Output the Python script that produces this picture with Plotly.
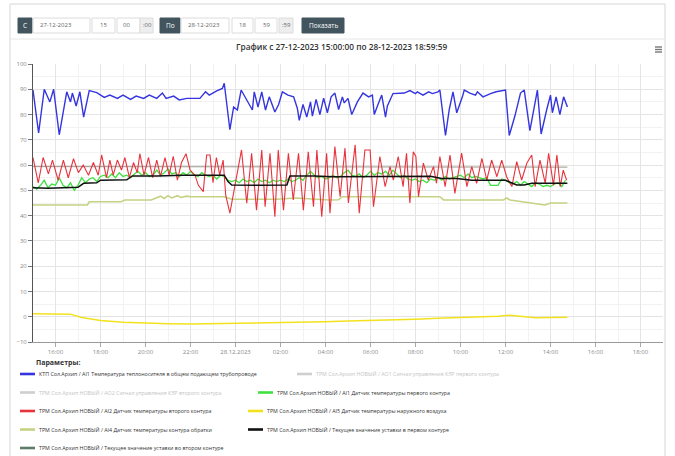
import pandas as pd
import plotly.graph_objects as go

# ---------------- data ----------------
START = pd.Timestamp("2023-12-27 15:00:00")
END = pd.Timestamp("2023-12-28 19:00:00")

# КТП: температура теплоносителя в общем подающем трубопроводе
blue_min = [0, 15, 30, 45, 55, 70, 90, 100, 105, 115, 125, 135, 150, 170, 190, 205, 225, 240, 260, 275,
            295, 310, 330, 345, 355, 375, 390, 410, 425, 445, 460, 470, 490, 505, 510, 525, 535, 545, 555, 570,
            585, 590, 600, 610, 620, 630, 645, 655, 665, 680, 695, 705, 710, 720, 730, 740, 745, 755, 765, 775,
            785, 795, 805, 815, 825, 830, 840, 850, 865, 880, 895, 905, 910, 920, 930, 940, 945, 960, 980, 990,
            1005, 1020, 1025, 1040, 1055, 1065, 1080, 1085, 1100, 1110, 1120, 1130, 1145, 1150, 1165, 1180, 1185,
            1200, 1220, 1235, 1260, 1270, 1285, 1300, 1310, 1325, 1345, 1355, 1370, 1380, 1385, 1395, 1405, 1415, 1425]
blue_val = [89.7, 72.7, 90, 85, 90, 72, 89, 85, 88.5, 83.4, 89, 79, 89.5, 88.7, 86.8, 87.7, 86.4, 87.7, 86, 87.3,
            86.4, 87.7, 86.4, 88.5, 86.4, 87.3, 85.8, 86.4, 86.4, 86.4, 89, 87.7, 89.4, 90.3, 92.4, 74, 83, 81.8, 89.7, 85.8,
            81.8, 89, 83, 89, 81.8, 87, 81, 84, 89, 87.7, 87, 82.4, 77.7, 84, 79, 85, 79.4, 86, 80, 86.5,
            80.7, 87, 88.5, 82, 87, 84.6, 86.4, 80, 85, 88.5, 87, 87.7, 80, 84, 87.7, 79, 83.4, 88.3, 88.3, 88.5,
            89.5, 88.3, 89, 87.7, 89, 88.3, 89, 89.7, 71.7, 82, 89, 80.7, 87, 89.7, 88.5, 87.7, 89,
            87, 88.3, 89, 89.7, 71.7, 79.4, 88.5, 89.7, 73.6, 89.7, 72.3, 82, 87.7, 80.7, 87, 80, 87, 83]

# ТРМ: датчик температуры второго контура
red_min = [0, 14, 27, 41, 52, 67, 81, 94, 108, 121, 134, 148, 161, 174, 183, 196, 205, 214, 225, 236,
           245, 257, 268, 278, 285, 296, 308, 319, 330, 340, 352, 363, 374, 385, 396, 408, 419, 432, 441, 454,
           463, 472, 480, 489, 498, 507, 514, 525, 556, 570, 583, 596, 610, 619, 632, 645, 654, 668, 681, 694,
           708, 721, 734, 748, 757, 770, 783, 792, 805, 819, 832, 841, 859, 870, 885, 899, 908, 925, 939, 952,
           961, 974, 987, 996, 1005, 1014, 1021, 1028, 1041, 1054, 1068, 1076, 1085, 1099, 1112, 1125, 1143, 1157,
           1170, 1183, 1197, 1210, 1223, 1237, 1250, 1263, 1277, 1290, 1303, 1317, 1330, 1339, 1352, 1366, 1375,
           1388, 1397, 1406, 1414, 1423]
red_val = [63, 53, 63, 56.5, 62, 54, 62, 55, 62.5, 57, 60, 56, 61, 56, 64, 55, 62, 56, 62, 58,
           63, 55, 61, 57, 64.5, 56, 63, 55, 62, 55.5, 63, 56, 63.5, 54, 61, 64.5, 58, 56, 52, 49.5,
           64, 64, 53, 63, 56, 62, 48, 41, 66, 44.9, 64.7, 42.2, 66, 43.5, 64.7, 39.6, 66, 42.2, 64.7, 46.2,
           64.7, 42.2, 65.3, 43.5, 66, 39.6, 64.7, 41, 67.3, 47.5, 66.7, 45, 68, 41, 66, 66, 43.5, 63.4, 51.5, 59.4,
           54.1, 63.4, 51.5, 64.7, 45, 65.3, 63.4, 47.5, 60.8, 54.1, 59.4, 52.8, 63.4, 51.5, 64, 48.8, 64.7, 51.5,
           59.4, 52.8, 62.7, 54.1, 62, 55.4, 62, 55.4, 51.5, 61.4, 54.1, 60.8, 64, 51.5, 62, 52.8, 64.7,
           52, 64, 51.5, 58, 54]

# ТРМ: датчик температуры первого контура
green_min = list(range(0, 1430, 10))
green_val = [51.5, 50.5, 52, 54, 51, 52.5, 52, 55, 52, 51, 53, 50, 52, 55, 53, 54.5, 55, 53.5, 55.5, 56,
             55, 56.5, 55, 57, 55.5, 56, 55, 56.5, 57.5, 56, 57, 55.5, 56, 58, 56, 57, 58.5, 56.5, 57, 55.5,
             57, 56, 57.5, 56, 55.5, 57, 56, 55.5, 56, 54.5, 56, 55.5, 54, 53.5, 54, 53, 54.5, 53.5, 54, 53,
             54.5, 53.5, 54, 53, 54, 53.5, 54, 53.5, 54.5, 53.5, 54, 55, 54, 56, 57.5, 56, 55, 55.5, 54.5, 55,
             56, 55, 55.5, 57, 58, 56, 55.5, 56.5, 55, 56, 57.5, 56, 57, 56.5, 57.5, 56, 58, 56.5, 55, 56,
             54.5, 54, 54.5, 53.5, 54, 53, 54.5, 54, 55, 54, 55.5, 54.5, 55, 55.5, 56, 55, 56.5, 55, 55.5, 55,
             54.5, 55, 52, 52, 52, 54.5, 54, 53, 52.5, 53.5, 52, 53.5, 52.5, 51.5, 53, 52.5, 51.5, 52, 51.5, 52.5,
             53, 51.5, 54]

# ТРМ: датчик температуры наружного воздуха
yellow_min = [0, 60, 100, 130, 180, 240, 300, 360, 420, 480, 540, 600, 660, 720, 780, 840, 900, 960,
              1020, 1080, 1140, 1200, 1240, 1270, 1300, 1340, 1380, 1425]
yellow_val = [1.2, 1.1, 1.0, -0.3, -1.5, -2.2, -2.6, -2.8, -2.9, -2.8, -2.6, -2.5, -2.3, -2.2, -2.0, -1.7,
              -1.5, -1.3, -1.0, -0.6, -0.4, -0.2, 0.2, 0.6, 0.1, -0.4, -0.3, -0.2]

# ТРМ: датчик температуры контура обратки
olive_min = [0, 60, 145, 150, 235, 245, 315, 325, 340, 350, 360, 370, 385, 395, 410, 420, 510, 530, 650,
             700, 790, 815, 825, 1085, 1095, 1255, 1263, 1272, 1300, 1340, 1365, 1380, 1425]
olive_val = [44.2, 44.2, 44.2, 45.5, 45.5, 46.2, 46.2, 46.8, 47.7, 46.8, 47.9, 47, 47.9, 47.2, 47.7, 47.5,
             47.5, 46.5, 46.5, 47, 46.2, 46.3, 47.5, 47.5, 46.2, 46.2, 47, 46.2, 45.6, 44.6, 44.2, 45, 45]

# ТРМ: текущее значение уставки в первом контуре
black_min = [0, 40, 80, 120, 135, 170, 180, 250, 265, 330, 400, 470, 510, 520, 530, 600, 677, 685, 750,
             800, 900, 970, 1010, 1060, 1090, 1130, 1170, 1260, 1290, 1310, 1330, 1425]
black_val = [51, 50.8, 51, 51.2, 52.8, 53, 54, 54.2, 55.7, 55.7, 56, 56, 56, 53.5, 52.1, 52, 52.1, 55.7, 55.7,
             55.4, 55.4, 55.4, 55.6, 55.6, 54.7, 54.7, 54, 54, 52.1, 52.1, 52.8, 52.8]

# ТРМ: текущее значение уставки во втором контуре
gray_min = [0, 300, 600, 900, 1200, 1425]
gray_val = [59.4, 59.4, 59.2, 59.2, 59.2, 59.2]

y_ticks = [-10, 0, 10, 20, 30, 40, 50, 60, 70, 80, 90, 100]
x_tick_labels = ["16:00", "18:00", "20:00", "22:00", "28.12.2023", "02:00", "04:00", "06:00",
                 "08:00", "10:00", "12:00", "14:00", "16:00", "18:00"]

series_names = [
    "КТП Сол.Архип / AI1 Температура теплоносителя в общем подающем трубопроводе",
    "ТРМ Сол.Архип НОВЫЙ / AO1 Сигнал управления КЗР первого контура",
    "ТРМ Сол.Архип НОВЫЙ / AO2 Сигнал управления КЗР второго контура",
    "ТРМ Сол.Архип НОВЫЙ / AI1 Датчик температуры первого контура",
    "ТРМ Сол.Архип НОВЫЙ / AI2 Датчик температуры второго контура",
    "ТРМ Сол.Архип НОВЫЙ / AI5 Датчик температуры наружного воздуха",
    "ТРМ Сол.Архип НОВЫЙ / AI4 Датчик температуры контура обратки",
    "ТРМ Сол.Архип НОВЫЙ / Текущее значение уставки в первом контуре",
    "ТРМ Сол.Архип НОВЫЙ / Текущее значение уставки во втором контуре",
]

# ---------------- styling ----------------
FONT = "Open Sans"
C_BLUE, C_GREEN, C_RED = "#3535e0", "#3fe03f", "#e8333d"
C_YELLOW, C_OLIVE, C_BLACK, C_SP2 = "#f2e21e", "#c3d383", "#111111", "#5f7a66"
C_SP2_LINE = "#8c8c80"
C_OFF = "#cfcfcf"
C_BTN = "#42545e"

W, H = 675, 456
PL, PR, PT, PB = 33, 663, 64, 342  # plot area in pixels


def px(X):
    return (X - PL) / (PR - PL)


def py(Y):
    return (PB - Y) / (PB - PT)


def t(mins):
    return START + pd.to_timedelta(mins, unit="min")


fig = go.Figure()

traces = [
    (gray_min, gray_val, series_names[8], C_SP2_LINE, 0.9),
    (olive_min, olive_val, series_names[6], C_OLIVE, 1.6),
    (yellow_min, yellow_val, series_names[5], C_YELLOW, 1.4),
    (green_min, green_val, series_names[3], C_GREEN, 1.3),
    (red_min, red_val, series_names[4], C_RED, 1.1),
    (black_min, black_val, series_names[7], C_BLACK, 1.5),
    (blue_min, blue_val, series_names[0], C_BLUE, 1.4),
]
for mins, vals, name, color, width in traces:
    fig.add_trace(go.Scatter(x=t(mins), y=vals, mode="lines", name=name,
                             line=dict(color=color, width=width), showlegend=False,
                             hoverinfo="skip"))

tick_vals = pd.date_range(START + pd.Timedelta(hours=1), periods=len(x_tick_labels), freq="2h")

fig.update_layout(
    width=W, height=H, autosize=False,
    margin=dict(l=PL, r=W - PR, t=PT, b=H - PB, pad=0),
    paper_bgcolor="white", plot_bgcolor="white",
    font=dict(family=FONT, size=6, color="#666"),
    xaxis=dict(type="date", range=[START, END], tickvals=tick_vals, ticktext=x_tick_labels,
               ticks="outside", ticklen=4, tickcolor="#aaa", showline=True, linecolor="#999",
               linewidth=1, showgrid=True, gridcolor="#e4e4e4", gridwidth=1,
               minor=dict(dtick=3600000, showgrid=True, gridcolor="#f2f2f2", ticks=""),
               tickfont=dict(size=6, color="#888"), zeroline=False, fixedrange=True),
    yaxis=dict(range=[-10, 100], tickvals=y_ticks, ticks="outside", ticklen=4, tickcolor="#777",
               showline=True, linecolor="#555", linewidth=1, showgrid=True, gridcolor="#e4e4e4",
               minor=dict(dtick=5, showgrid=True, gridcolor="#f2f2f2", ticks=""),
               tickfont=dict(size=6, color="#888"), zeroline=False, fixedrange=True),
)

shapes = []
annotations = []


def rect(x0, y0, x1, y1, fill="white", line="#dcdcdc", lw=1):
    shapes.append(dict(type="rect", xref="paper", yref="paper", x0=px(x0), x1=px(x1),
                       y0=py(y1), y1=py(y0), fillcolor=fill, line=dict(color=line, width=lw),
                       layer="above"))


def hline(x0, x1, y, color, lw=1):
    shapes.append(dict(type="line", xref="paper", yref="paper", x0=px(x0), x1=px(x1),
                       y0=py(y), y1=py(y), line=dict(color=color, width=lw), layer="above"))


def text(x, y, s, size=6, color="#555", anchor="left", weight="normal"):
    annotations.append(dict(xref="paper", yref="paper", x=px(x), y=py(y), text=s, showarrow=False,
                            xanchor=anchor, yanchor="middle", borderpad=0,
                            font=dict(family=FONT, size=size, color=color, weight=weight)))


# panel frame
shapes.append(dict(type="rect", xref="paper", yref="paper", x0=px(10), x1=px(665),
                   y0=py(470), y1=py(4), line=dict(color="#d6d6d6", width=1), layer="below"))
hline(10, 665, 39, "#e6e6e6")

# date / time controls
rect(18, 18, 32, 33, fill=C_BTN, line=C_BTN)
text(25, 25.5, "С", 6.5, "white", "center")
rect(33, 18, 90, 33)
text(39, 25.5, "27-12-2023", 6, "#666")
rect(92, 18, 115, 33)
text(103, 25.5, "15", 6, "#666", "center")
rect(117, 18, 140, 33)
text(126, 25.5, "00", 6, "#666", "center")
rect(140, 18, 153, 33, fill="#eeeeee")
text(147, 25.5, ":00", 6, "#666", "center")
rect(160, 18, 180, 33, fill=C_BTN, line=C_BTN)
text(170, 25.5, "По", 6.5, "white", "center")
rect(181, 18, 229, 33)
text(187, 25.5, "28-12-2023", 6, "#666")
rect(232, 18, 253, 33)
text(242, 25.5, "18", 6, "#666", "center")
rect(255, 18, 277, 33)
text(266, 25.5, "59", 6, "#666", "center")
rect(279, 18, 293, 33, fill="#eeeeee")
text(286, 25.5, ":59", 6, "#666", "center")
rect(302, 18, 344, 33, fill=C_BTN, line=C_BTN)
text(323, 25.5, "Показать", 6.5, "white", "center")

# chart title
text(341, 46.5, "График с 27-12-2023 15:00:00 по 28-12-2023 18:59:59", 8.3, "#333", "center", 600)

# export menu icon
for yy in (47, 49.5, 52):
    hline(655, 662, yy, "#777", 1.4)

# legend
text(35, 362, "Параметры:", 7, "#333", "left", "bold")
legend_colors = [C_BLUE, C_OFF, C_OFF, C_GREEN, C_RED, C_YELLOW, C_OLIVE, C_BLACK, C_SP2]
legend_visible = [True, False, False, True, True, True, True, True, True]
legend_slots = [(20, 374), (297, 374), (20, 392.5), (258, 392.5), (20, 411), (248, 411),
                (20, 429.5), (248, 429.5), (20, 448)]
for name, color, vis, (lx, ly) in zip(series_names, legend_colors, legend_visible, legend_slots):
    hline(lx, lx + 15, ly, color, 2.6)
    text(lx + 18, ly, name, 5.3, "#333" if vis else "#c4c4c4")

fig.update_layout(shapes=shapes, annotations=annotations)
fig.write_html("out.html", config={"displayModeBar": False})
